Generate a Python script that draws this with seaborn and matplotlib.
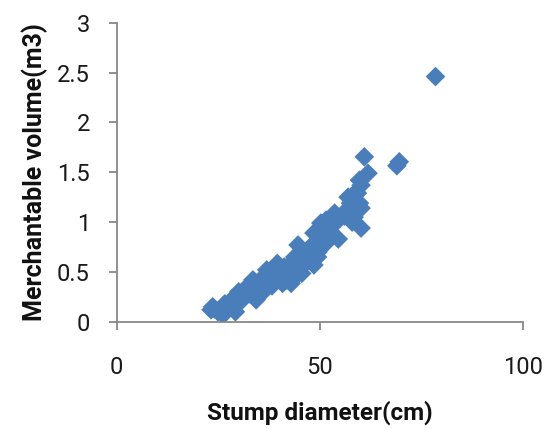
import matplotlib
matplotlib.use("Agg")
import matplotlib.pyplot as plt
import seaborn as sns
import pandas as pd

# Stump diameter (cm) and merchantable volume (m3)
stump_diameter = [
    78.4, 60.9, 69.5, 68.9, 61.8, 59.7, 60.1, 58.8, 56.9, 57.5,
    59.7, 60.1, 56.7, 58.4, 53.6, 60.1, 57.9, 51.5, 50.2, 54.5,
    48.5, 50.6, 51.5, 48.9, 47.2, 44.6, 45.5, 49.4, 48.5, 46.4,
    43.8, 42.9, 44.6, 43.8, 45.5, 42.1, 39.5, 38.6, 39.5, 40.8,
    42.9, 36.9, 36.1, 37.3, 35.2, 35.6, 34.3, 33.5, 32.6, 31.3,
    31.8, 30.9, 30.0, 29.2, 29.6, 28.3, 27.5, 29.2, 26.6, 25.8,
    26.2, 24.0, 23.2, 24.9, 23.6, 32.6, 36.5, 37.8, 40.3, 41.2,
    46.4, 47.6, 49.8, 52.8, 52.8, 55.8, 57.9, 59.2, 35.2, 33.9,
    27.0, 28.0, 30.5, 32.0, 34.0, 35.0, 37.0, 38.0, 39.0, 40.0,
    41.0, 42.0, 43.0, 44.0, 45.0, 46.0, 47.0, 48.0, 49.0, 50.0,
    51.0, 52.0, 53.0, 55.0, 56.0, 25.5, 26.8, 28.8, 31.0, 33.0,
    38.2, 41.8, 44.2, 46.8, 49.5,
]
merch_volume = [
    2.46, 1.655, 1.605, 1.565, 1.49, 1.42, 1.37, 1.30, 1.25, 1.19,
    1.19, 1.14, 1.09, 1.05, 1.09, 0.94, 1.00, 1.02, 0.99, 0.83,
    0.89, 0.89, 0.79, 0.79, 0.72, 0.77, 0.69, 0.65, 0.57, 0.585,
    0.65, 0.585, 0.52, 0.45, 0.485, 0.485, 0.585, 0.52, 0.435, 0.385,
    0.385, 0.52, 0.45, 0.385, 0.35, 0.285, 0.22, 0.42, 0.35, 0.32,
    0.27, 0.22, 0.30, 0.25, 0.18, 0.22, 0.15, 0.10, 0.18, 0.12,
    0.07, 0.13, 0.12, 0.10, 0.15, 0.28, 0.32, 0.43, 0.485, 0.55,
    0.685, 0.75, 0.82, 0.89, 0.95, 1.09, 1.22, 1.29, 0.385, 0.40,
    0.15, 0.19, 0.25, 0.30, 0.33, 0.40, 0.40, 0.47, 0.50, 0.45,
    0.44, 0.50, 0.55, 0.60, 0.62, 0.66, 0.64, 0.74, 0.72, 0.84,
    0.90, 0.96, 0.98, 1.04, 1.06, 0.11, 0.14, 0.20, 0.26, 0.29,
    0.36, 0.42, 0.48, 0.62, 0.70,
]
x_ticks = [0, 50, 100]
y_ticks = [0, 0.5, 1, 1.5, 2, 2.5, 3]
x_label = "Stump diameter(cm)"
y_label = "Merchantable volume(m3)"

df = pd.DataFrame({"d": stump_diameter, "v": merch_volume})

sns.set_theme(style="white")
plt.rcParams["font.family"] = ["Roboto", "DejaVu Sans"]

fig = plt.figure(figsize=(5.46, 4.29), dpi=100)
ax = fig.add_axes([0.2137, 0.250, 0.9585 - 0.2137, 0.947 - 0.250])

sns.scatterplot(data=df, x="d", y="v", marker="D", s=100, color="#4A7EBB",
                edgecolor="none", linewidth=0, ax=ax, legend=False)

ax.set_xlim(0, 100)
ax.set_ylim(0, 3)
ax.set_xticks(x_ticks)
ax.set_yticks(y_ticks)
ax.set_xticklabels([str(t) for t in x_ticks])
ax.set_yticklabels([f"{t:g}" for t in y_ticks])

gray = "#878787"
for side in ["top", "right"]:
    ax.spines[side].set_visible(False)
for side in ["left", "bottom"]:
    ax.spines[side].set_color(gray)
    ax.spines[side].set_linewidth(1.3)

ax.tick_params(axis="x", direction="out", length=5.5, width=1.3, color=gray,
               labelsize=17, pad=19, labelcolor="#1a1a1a", bottom=True)
ax.tick_params(axis="y", direction="out", length=5.8, width=1.3, color=gray,
               labelsize=17, pad=13.5, labelcolor="#1a1a1a", left=True)

ax.set_xlabel(x_label, fontsize=17.5, fontweight="bold", color="#111111", labelpad=16)
ax.set_ylabel(y_label, fontsize=18, fontweight="bold", color="#111111")
ax.yaxis.set_label_coords(-0.17, 0.5)

fig.savefig("out.png", dpi=100)
